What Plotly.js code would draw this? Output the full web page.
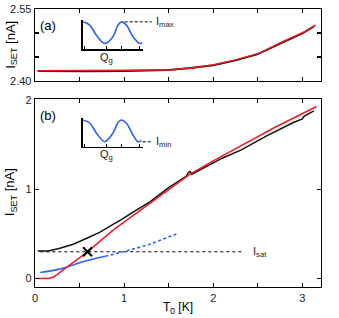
<!DOCTYPE html>
<html><head><meta charset="utf-8">
<script src="https://cdn.plot.ly/plotly-3.0.1.min.js"></script>
<style>html,body{margin:0;padding:0;background:#fff;}#chart{width:339px;height:318px;}</style>
</head><body><div id="chart"></div>
<script>
// Panel (a): I_max vs T0
var aT_black = [0.03,0.3,0.6,1.0,1.25,1.5,1.75,2.0,2.25,2.5,2.75,3.0,3.13];
var aI_black = [2.421,2.4205,2.4205,2.421,2.422,2.423,2.427,2.433,2.443,2.456,2.478,2.499,2.514];
var aT_red = [0.03,0.3,0.6,1.0,1.25,1.5,1.75,2.0,2.25,2.52,2.78,3.02,3.15];
var aI_red = [2.4216,2.4216,2.4218,2.422,2.4225,2.423,2.427,2.4336,2.444,2.458,2.482,2.502,2.517];

// Panel (b): I_min vs T0
var bT_black = [0.03,0.15,0.28,0.43,0.60,0.73,0.88,0.96,1.1,1.29,1.5,1.70,1.72,1.74,1.76,1.91,2.1,2.31,2.6,2.9,3.0,3.02,3.13];
var bI_black = [0.31,0.31,0.34,0.385,0.46,0.52,0.61,0.655,0.745,0.86,1.02,1.15,1.19,1.20,1.17,1.25,1.35,1.44,1.60,1.75,1.79,1.82,1.88];
var bT_red = [0.03,0.15,0.20,0.25,0.30,0.36,0.47,0.59,0.73,0.88,1.03,1.29,1.74,2.0,2.42,2.7,3.16];
var bI_red = [0.0,0.0,0.015,0.045,0.085,0.13,0.22,0.30,0.42,0.545,0.655,0.84,1.17,1.32,1.55,1.70,1.93];
var bT_blue = [0.06,0.25,0.36,0.545,0.79];
var bI_blue = [0.067,0.10,0.13,0.19,0.25];
var bT_blueDot = [0.79,1.03,1.29,1.59];
var bI_blueDot = [0.25,0.31,0.385,0.50];
var Isat = 0.30;
var IsatT = [0.06, 2.35];
var crossT = [0.59];

// Insets: schematic I vs Q_g
var inAx = [0.3,7,13.7,22,30.3,35.3,38.7,43.7,50.3,57,59.7];
var inAy = [1.0,0.85,0.38,0,0.31,0.85,1.0,0.85,0.31,0,0.03];
var inBx = [0,7,13.7,22,30.3,35.3,38.7,43.7,50.3,55.3,58.7];
var inBy = [1.0,0.86,0.40,0,0.40,0.88,1.0,0.85,0.31,0,0.05];
var inTicks = [1.5,23.5,38.5,57];

var RED = '#f21c1c', BLUE = '#2f62f2', BLK = '#000000';
var FONT = 'Liberation Sans, Arial, sans-serif';

var traces = [
  {x:aT_black, y:aI_black, xaxis:'x2', yaxis:'y2', mode:'lines', line:{color:'#111', width:2}, hoverinfo:'skip'},
  {x:aT_red, y:aI_red, xaxis:'x2', yaxis:'y2', mode:'lines', line:{color:RED, width:1.5}, hoverinfo:'skip'},
  {x:IsatT, y:[Isat, Isat], mode:'lines', line:{color:BLK, width:1, dash:'3px,3px'}},
  {x:bT_blueDot, y:bI_blueDot, mode:'lines', line:{color:BLUE, width:1.6, dash:'3px,2.5px'}},
  {x:bT_blue, y:bI_blue, mode:'lines', line:{color:BLUE, width:1.6, shape:'spline'}},
  {x:bT_black, y:bI_black, mode:'lines', line:{color:'#111', width:1.5}},
  {x:bT_red, y:bI_red, mode:'lines', line:{color:RED, width:1.5}},
  {x:crossT, y:[Isat], mode:'markers', marker:{symbol:'x-thin', size:9, line:{color:BLK, width:2}}},
  {x:inAx, y:inAy, xaxis:'x3', yaxis:'y3', mode:'lines', line:{color:BLUE, width:1.6, shape:'spline'}},
  {x:inBx, y:inBy, xaxis:'x4', yaxis:'y4', mode:'lines', line:{color:BLUE, width:1.6, shape:'spline'}}
];

var tickT = [0,0.5,1,1.5,2,2.5,3];
var baseAx = {showline:true, linecolor:BLK, linewidth:1.3, mirror:'ticks', ticks:'inside', ticklen:4, tickwidth:1.2, tickcolor:BLK, showgrid:false, zeroline:false, fixedrange:true, tickfont:{family:FONT, size:11, color:'#222'}};
function ax(o){ return Object.assign({}, baseAx, o); }
var insetAx = {showline:true, linecolor:BLK, linewidth:1.5, mirror:false, showgrid:false, zeroline:false, showticklabels:false, fixedrange:true};

var layout = {
  width:339, height:318, margin:{l:35, r:18, t:9, b:31},
  paper_bgcolor:'#fff', plot_bgcolor:'#fff', showlegend:false,
  font:{family:FONT, size:11, color:'#222'},
  xaxis: ax({domain:[0,1], range:[0,3.21], anchor:'y', tickvals:tickT, ticktext:['0','','1','','2','','3']}),
  yaxis: ax({domain:[0,0.675], range:[-0.095,2.01], anchor:'x', tickvals:[0,1,2], ticktext:['0','1','2']}),
  xaxis2: ax({domain:[0,1], range:[0,3.21], anchor:'y2', tickvals:tickT, showticklabels:false}),
  yaxis2: ax({domain:[0.741,1], range:[2.40,2.55], anchor:'x2', tickvals:[2.40,2.45,2.50,2.55], ticktext:['2.40','','','2.55']}),
  xaxis3: Object.assign({}, insetAx, {domain:[0.1668,0.3766], range:[0,60], anchor:'y3', ticks:'inside', ticklen:3, tickwidth:1, tickcolor:BLK, tickvals:inTicks}),
  yaxis3: Object.assign({}, insetAx, {domain:[0.856,0.960], range:[-0.26,1.08], anchor:'x3', ticks:''}),
  xaxis4: Object.assign({}, insetAx, {domain:[0.1668,0.3766], range:[0,60], anchor:'y4', ticks:'inside', ticklen:3, tickwidth:1, tickcolor:BLK, tickvals:inTicks}),
  yaxis4: Object.assign({}, insetAx, {domain:[0.5047,0.6079], range:[-0.23,1.09], anchor:'x4', ticks:''}),
  shapes:[
    {type:'line', xref:'x3 domain', yref:'y3 domain', x0:0.70, x1:1.15, y0:0.94, y1:0.94, line:{color:BLK, width:1, dash:'3px,2px'}},
    {type:'line', xref:'x4 domain', yref:'y4 domain', x0:1.0, x1:1.15, y0:0.17, y1:0.17, line:{color:BLK, width:1, dash:'3px,2px'}}
  ],
  annotations:[
    {text:'(a)', xref:'paper', yref:'paper', x:0.044, y:0.942, xanchor:'center', yanchor:'middle', showarrow:false, font:{family:FONT, size:13, color:BLK}},
    {text:'(b)', xref:'paper', yref:'paper', x:0.044, y:0.617, xanchor:'center', yanchor:'middle', showarrow:false, font:{family:FONT, size:13, color:BLK}},
    {text:'I<sub>max</sub>', xref:'x3 domain', yref:'y3 domain', x:1.19, y:0.94, xanchor:'left', yanchor:'middle', showarrow:false, font:{family:FONT, size:11, color:'#222'}},
    {text:'I<sub>min</sub>', xref:'x4 domain', yref:'y4 domain', x:1.19, y:0.17, xanchor:'left', yanchor:'middle', showarrow:false, font:{family:FONT, size:11, color:'#222'}},
    {text:'Q<sub>g</sub>', xref:'x3 domain', yref:'paper', x:0.40, y:0.822, xanchor:'center', yanchor:'middle', showarrow:false, font:{family:FONT, size:11, color:'#222'}},
    {text:'Q<sub>g</sub>', xref:'x4 domain', yref:'paper', x:0.40, y:0.474, xanchor:'center', yanchor:'middle', showarrow:false, font:{family:FONT, size:11, color:'#222'}},
    {text:'I<sub>sat</sub>', xref:'x', yref:'y', x:2.42, y:Isat, xanchor:'left', yanchor:'middle', showarrow:false, font:{family:FONT, size:11, color:'#222'}},
    {text:'I<sub>SET</sub> [nA]', xref:'paper', yref:'paper', x:-0.085, y:0.87, textangle:-90, xanchor:'center', yanchor:'middle', showarrow:false, font:{family:FONT, size:13, color:BLK}},
    {text:'I<sub>SET</sub> [nA]', xref:'paper', yref:'paper', x:-0.085, y:0.34, textangle:-90, xanchor:'center', yanchor:'middle', showarrow:false, font:{family:FONT, size:13, color:BLK}},
    {text:'T<sub>0</sub> [K]', xref:'paper', yref:'paper', x:0.5, y:-0.075, xanchor:'center', yanchor:'middle', showarrow:false, font:{family:FONT, size:12, color:BLK}}
  ]
};
Plotly.newPlot('chart', traces, layout, {staticPlot:true, displayModeBar:false});
</script></body></html>
